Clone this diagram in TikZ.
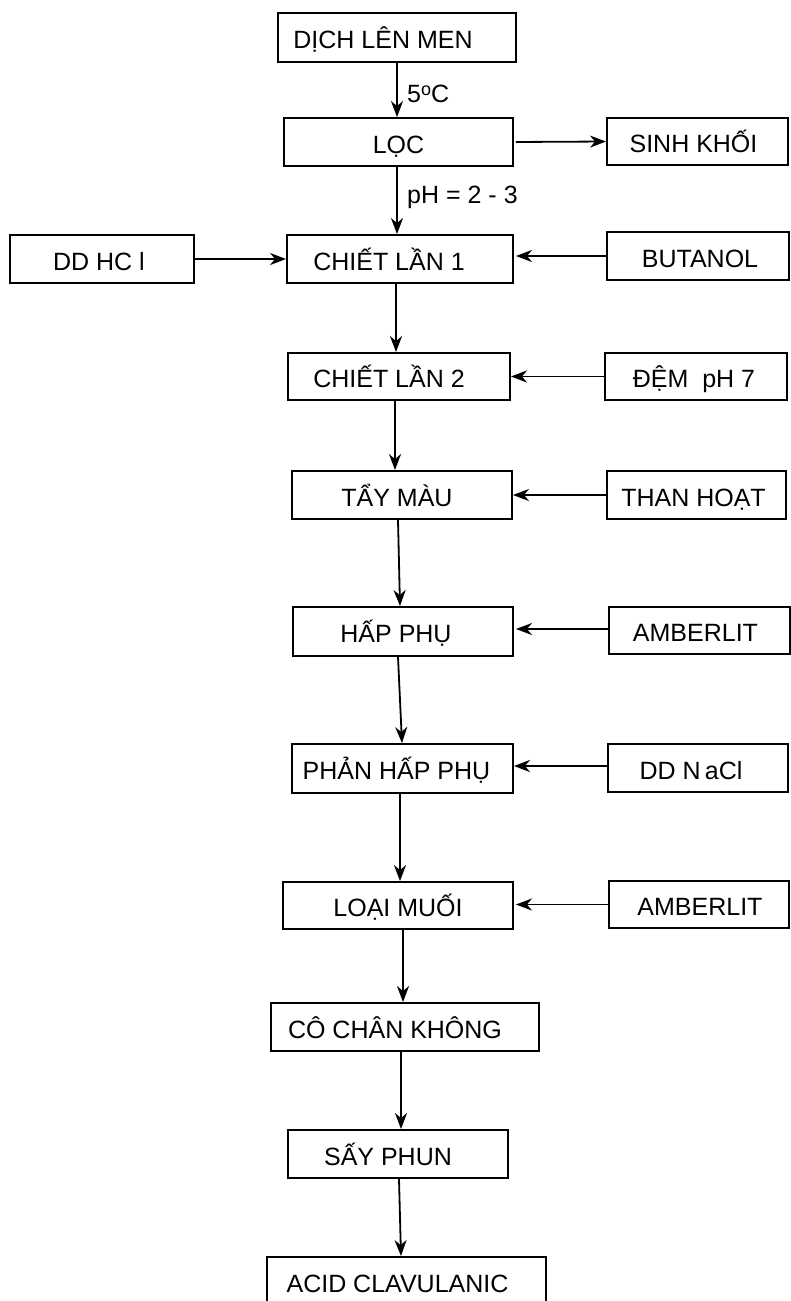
\documentclass[tikz,border=0pt]{standalone}
\usepackage{fontspec}
\setmainfont{Liberation Sans}
\usetikzlibrary{arrows.meta}
\newcommand{\shl}[2]{\hspace*{-#1pt}#2\hspace*{#1pt}}
\begin{document}
\begin{tikzpicture}[x=1pt,y=-1pt,
  box/.style={draw, line width=1.9pt, inner sep=0pt, text height=22pt, text depth=0pt,
    font=\fontsize{25}{30}\selectfont},
  lbl/.style={inner sep=0pt, font=\fontsize{25}{30}\selectfont},
  arr/.style={line width=1.8pt, -{Stealth[length=16pt,width=12pt,inset=5pt]}}]
\useasboundingbox (0,0) rectangle (791,1301);
\clip (0,0) rectangle (791,1301);
% main column
\node[box, minimum width=238pt, minimum height=49pt] (dich) at (397,37.5) {\shl{14}{DỊCH LÊN MEN}};
\node[box, minimum width=229pt, minimum height=48pt] (loc) at (398.5,142) {LỌC};
\node[box, minimum width=226pt, minimum height=48pt] (chiet1) at (400,259) {\shl{11}{CHIẾT LẦN 1}};
\node[box, minimum width=222pt, minimum height=47pt] (chiet2) at (399,376.5) {\shl{10}{CHIẾT LẦN 2}};
\node[box, minimum width=220pt, minimum height=48pt] (tay) at (402,495) {\shl{5}{TẨY MÀU}};
\node[box, minimum width=220pt, minimum height=49pt] (hap) at (403,631.5) {\shl{7}{HẤP PHỤ}};
\node[box, minimum width=221pt, minimum height=49pt] (phan) at (402.5,768.5) {\shl{6}{PHẢN HẤP PHỤ}};
\node[box, minimum width=230pt, minimum height=47pt] (loai) at (398,905.5) {LOẠI MUỐI};
\node[box, minimum width=268pt, minimum height=48pt] (co) at (405,1027) {\shl{10}{CÔ CHÂN KHÔNG}};
\node[box, minimum width=220pt, minimum height=48pt] (say) at (398,1154) {\shl{10}{SẤY PHUN}};
\node[box, minimum width=279pt, minimum height=48pt] (acid) at (406.5,1281) {\shl{9}{ACID CLAVULANIC}};
% side boxes
\node[box, minimum width=181pt, minimum height=47pt] (sinh) at (697.5,141.5) {\shl{4}{SINH KHỐI}};
\node[box, minimum width=184pt, minimum height=48pt] (hcl) at (102,259) {\shl{3}{DD HC l}};
\node[box, minimum width=182pt, minimum height=48pt] (buta) at (698,256) {\shl{-2}{BUTANOL}};
\node[box, minimum width=182pt, minimum height=47pt] (dem) at (696,376.5) {\shl{2}{ĐỆM~ pH 7}};
\node[box, minimum width=179pt, minimum height=48pt] (than) at (696.5,495) {\shl{3}{THAN HOẠT}};
\node[box, minimum width=181pt, minimum height=47pt] (amb1) at (699.5,630.5) {\shl{4}{AMBERLIT}};
\node[box, minimum width=180pt, minimum height=48pt] (nacl) at (698,768) {\shl{7}{DD N\,aCl}};
\node[box, minimum width=180pt, minimum height=47pt] (amb2) at (699,904.5) {\shl{-1}{AMBERLIT}};
% labels
\node[lbl, anchor=base west] (t5c) at (407,102) {5\raisebox{6.5pt}{\fontsize{18}{18}\selectfont o}C};
\node[lbl, anchor=base west] (tph) at (407,203) {pH = 2 - 3};
% vertical arrows
\draw[arr] (dich.south) -- ([xshift=-1.5pt]loc.north);
\draw[arr] ([xshift=-1.5pt]loc.south) -- ([xshift=-3pt]chiet1.north);
\draw[arr] ([xshift=-4pt]chiet1.south) -- ([xshift=-3pt]chiet2.north);
\draw[arr] ([xshift=-4pt]chiet2.south) -- ([xshift=-7pt]tay.north);
\draw[arr] ([xshift=-4pt]tay.south) -- ([xshift=-3pt]hap.north);
\draw[arr] ([xshift=-5pt]hap.south) -- ([xshift=-0.5pt]phan.north);
\draw[arr] ([xshift=-2.5pt]phan.south) -- ([xshift=2pt]loai.north);
\draw[arr] ([xshift=5pt]loai.south) -- ([xshift=-2pt]co.north);
\draw[arr] ([xshift=-4pt]co.south) -- ([xshift=3pt]say.north);
\draw[arr] ([xshift=1pt]say.south) -- ([xshift=-5.5pt]acid.north);
% horizontal arrows
\draw[arr, shorten <=2pt] (loc.east) -- (sinh.west);
\draw[arr] (hcl.east) -- (chiet1.west);
\draw[arr, shorten >=2pt] (buta.west) -- (buta.west -| chiet1.east);
\draw[arr] (dem.west) -- (dem.west -| chiet2.east);
\draw[arr] (than.west) -- (than.west -| tay.east);
\draw[arr, shorten >=2pt] ([yshift=1.5pt]amb1.west) -- ([yshift=1.5pt]amb1.west -| hap.east);
\draw[arr] ([yshift=2pt]nacl.west) -- ([yshift=2pt]nacl.west -| phan.east);
\draw[arr, shorten >=2pt] (amb2.west) -- (amb2.west -| loai.east);
\end{tikzpicture}
\end{document}
